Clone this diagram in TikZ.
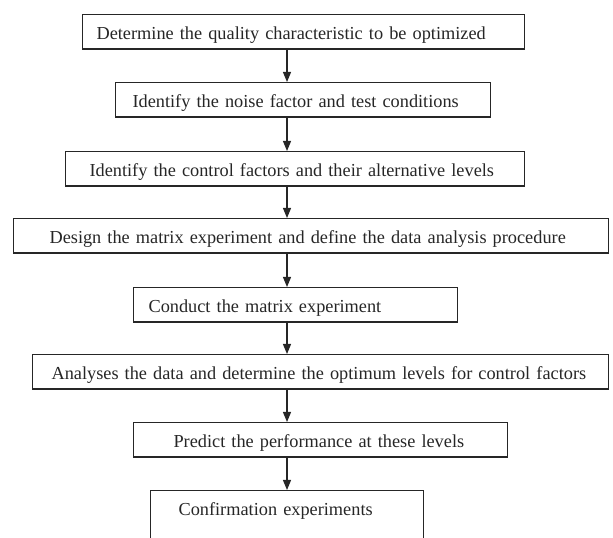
\documentclass[tikz,border=0pt]{standalone}
\usepackage{fontspec}
\setmainfont{Liberation Serif}
\usetikzlibrary{arrows.meta}

\tikzset{
	box/.style={draw=black!85, line width=1.1pt, text=black!85, anchor=north west, align=left,
		inner ysep=0pt, text height=25pt, text depth=9.5pt, font=\fontsize{18.3}{20}\selectfont},
	flow/.style={draw=black!85, line width=1.1pt, -{Triangle[length=10pt,width=8pt]}}
}

\begin{document}
\begin{tikzpicture}[x=1pt, y=1pt]
		\useasboundingbox (0, 0) rectangle (613, 538);
		\clip (0, 0) rectangle (613, 538);
		
		% all arrows run down this line
		\coordinate (spine) at (287, 0);
		
		\node[box, inner xsep=14pt, text width=414pt] (quality) at (82, 524) {Determine the quality characteristic to be optimized};
		\node[box, inner xsep=17pt, text width=341pt] (noise) at (115, 456) {Identify the noise factor and test conditions};
		\node[box, inner xsep=24pt, text width=411pt] (control) at (65, 387) {Identify the control factors and their alternative levels};
		\node[box, inner xsep=36pt, text width=523pt] (design) at (13, 320) {Design the matrix experiment and define the data analysis procedure};
		\node[box, inner xsep=15pt, text width=294pt] (conduct) at (133, 251) {Conduct the matrix experiment};
		\node[box, inner xsep=19pt, text width=538pt] (analyse) at (32, 184) {Analyses the data and determine the optimum levels for control factors};
		\node[box, inner xsep=40pt, text width=294pt] (predict) at (133, 116) {Predict the performance at these levels};
		% last box runs off the bottom edge
		\node[box, inner xsep=28pt, text width=217pt, text depth=60pt] (confirm) at (150, 48) {Confirmation experiments};
		
		\draw[flow] (quality.south -| spine) -- (noise.north -| spine);
		\draw[flow] (noise.south -| spine) -- (control.north -| spine);
		\draw[flow] (control.south -| spine) -- (design.north -| spine);
		\draw[flow] (design.south -| spine) -- (conduct.north -| spine);
		\draw[flow] (conduct.south -| spine) -- (analyse.north -| spine);
		\draw[flow] (analyse.south -| spine) -- (predict.north -| spine);
		\draw[flow] (predict.south -| spine) -- (confirm.north -| spine);
	\end{tikzpicture}
\end{document}
